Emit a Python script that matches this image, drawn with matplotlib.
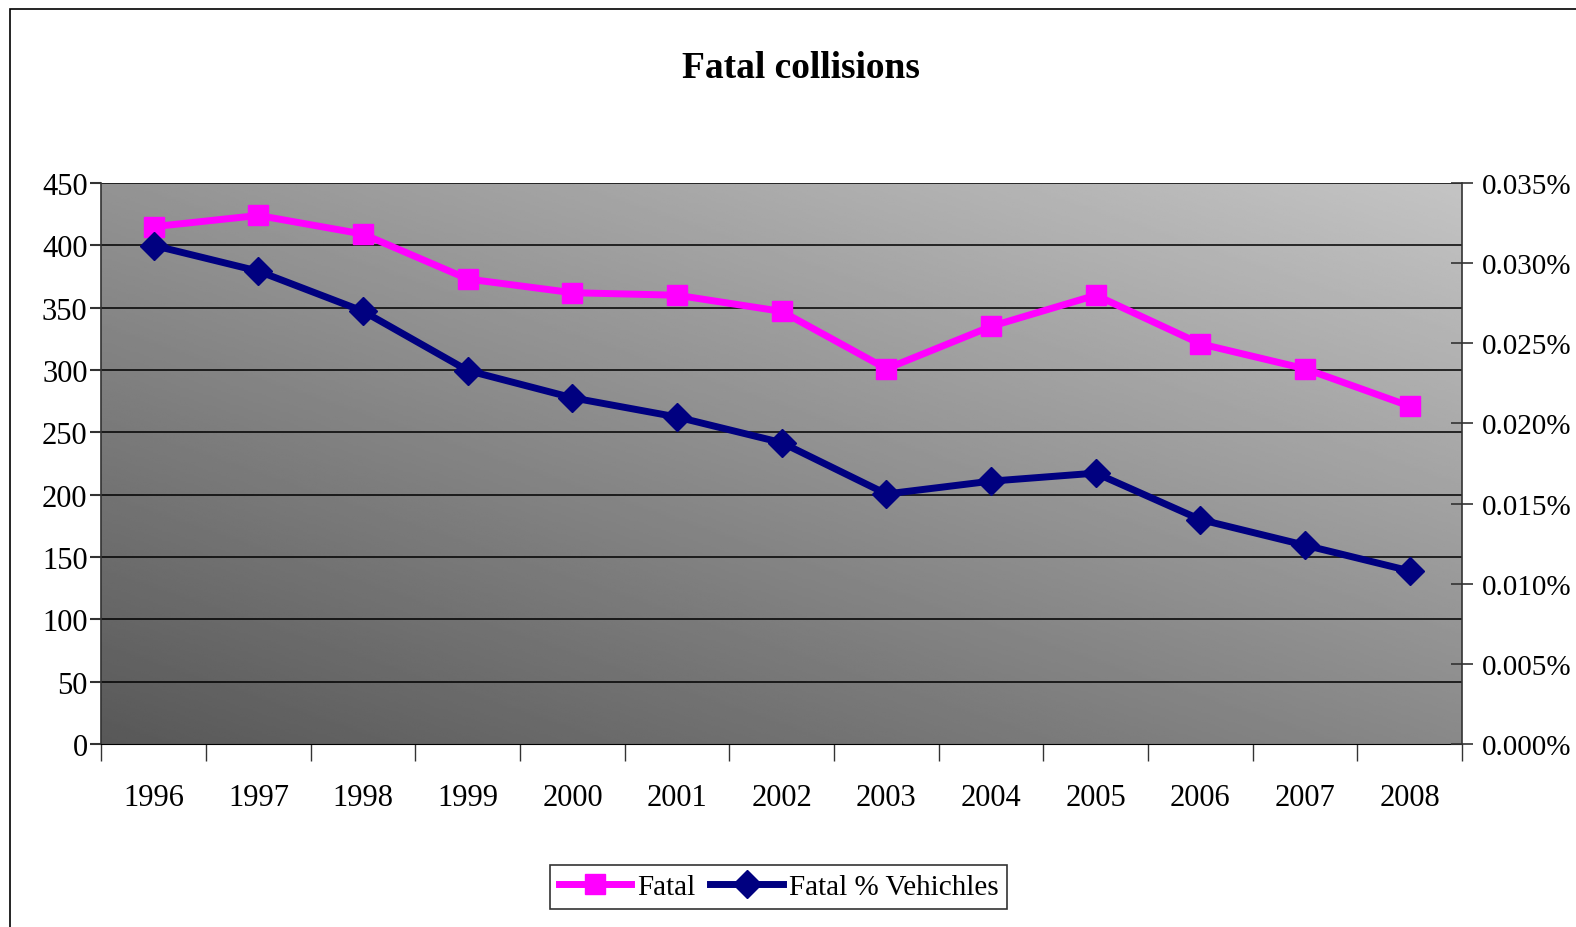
import numpy as np
import matplotlib
matplotlib.use("Agg")
import matplotlib.pyplot as plt
from matplotlib.patches import Rectangle

years = ["1996", "1997", "1998", "1999", "2000", "2001", "2002",
         "2003", "2004", "2005", "2006", "2007", "2008"]
fatal = [415, 424, 409, 373, 362, 360, 347, 301, 335, 360, 321, 301, 271]
# percent of vehicles (already in % units)
fatal_pct = [0.0311, 0.0295, 0.0270, 0.0233, 0.0216, 0.0204, 0.0188,
             0.0156, 0.0164, 0.0169, 0.0140, 0.0124, 0.0108]

left_ticks = list(range(0, 451, 50))
right_ticks = [0.000, 0.005, 0.010, 0.015, 0.020, 0.025, 0.030, 0.035]

plt.rcParams["font.family"] = ["Liberation Serif", "DejaVu Serif"]

fig = plt.figure(figsize=(15.76, 9.28), dpi=100)
fig.patches.append(Rectangle((10 / 1576, -0.01), 1.02, 1 - 10 / 928 + 0.01,
                             transform=fig.transFigure, fill=False,
                             edgecolor="black", linewidth=1.2))

ax = fig.add_axes([0.0644, 0.1972, 0.8633, 0.6045])
x = np.arange(len(years))

# gradient background, dark bottom-left to light top-right
u, v = np.meshgrid(np.linspace(0, 1, 300), np.linspace(0, 1, 300))
t = (u * 0.9 + v * 1.1) / 2.0
grey = (88 + (196 - 88) * t) / 255.0
ax.imshow(grey, cmap="gray", vmin=0, vmax=1, origin="lower",
          extent=[0, 1, 0, 1], transform=ax.transAxes, aspect="auto", zorder=0)

ax.set_xlim(-0.5, len(years) - 0.5)
ax.set_ylim(0, 450)
ax.set_yticks(left_ticks)
ax.set_yticklabels([str(v) for v in left_ticks], fontsize=22)
for yv in left_ticks[1:]:
    ax.axhline(yv, color="black", linewidth=1.1, zorder=1)

ax.set_xticks(np.arange(len(years) + 1) - 0.5)
ax.set_xticklabels([])
ax.set_xticks(x, minor=True)
ax.set_xticklabels(years, minor=True, fontsize=22)
ax.tick_params(axis="x", which="major", direction="out", length=12, width=1, color="#333333")
ax.tick_params(axis="x", which="minor", length=0, pad=28)
ax.tick_params(axis="y", direction="out", length=8, width=1.5, color="#333333", pad=2)

for s in ["top", "right"]:
    ax.spines[s].set_visible(False)
ax.spines["left"].set_color("#333333")
ax.spines["bottom"].set_color("black")
ax.spines["left"].set_linewidth(1.2)

l1, = ax.plot(x, fatal, color="#FF00FF", linewidth=5, marker="s",
              markersize=14, zorder=4, label="Fatal")

ax2 = ax.twinx()
ax2.set_ylim(0, 0.035)
ax2.set_yticks(right_ticks)
ax2.set_yticklabels(["%.3f%%" % v for v in right_ticks], fontsize=21)
ax2.tick_params(axis="y", direction="inout", length=16, width=1.2, color="#333333", pad=6)
for s in ["top", "left", "bottom"]:
    ax2.spines[s].set_visible(False)
ax2.spines["right"].set_color("#333333")
ax2.spines["right"].set_linewidth(1.2)
l2, = ax2.plot(x, fatal_pct, color="#000080", linewidth=5, marker="D",
               markersize=14, zorder=4, label="Fatal % Vehichles")

fig.text(0.508, 0.926, "Fatal collisions", ha="center", va="center",
         fontsize=27, fontweight="bold")

leg = fig.legend(handles=[l1, l2], loc="center", bbox_to_anchor=(0.494, 0.043),
                 ncol=2, fontsize=21, frameon=True, fancybox=False,
                 edgecolor="black", handlelength=2.5, handletextpad=0.2,
                 columnspacing=0.5, borderpad=0.3)
leg.get_frame().set_linewidth(1.2)

fig.savefig("out.png", dpi=100)
